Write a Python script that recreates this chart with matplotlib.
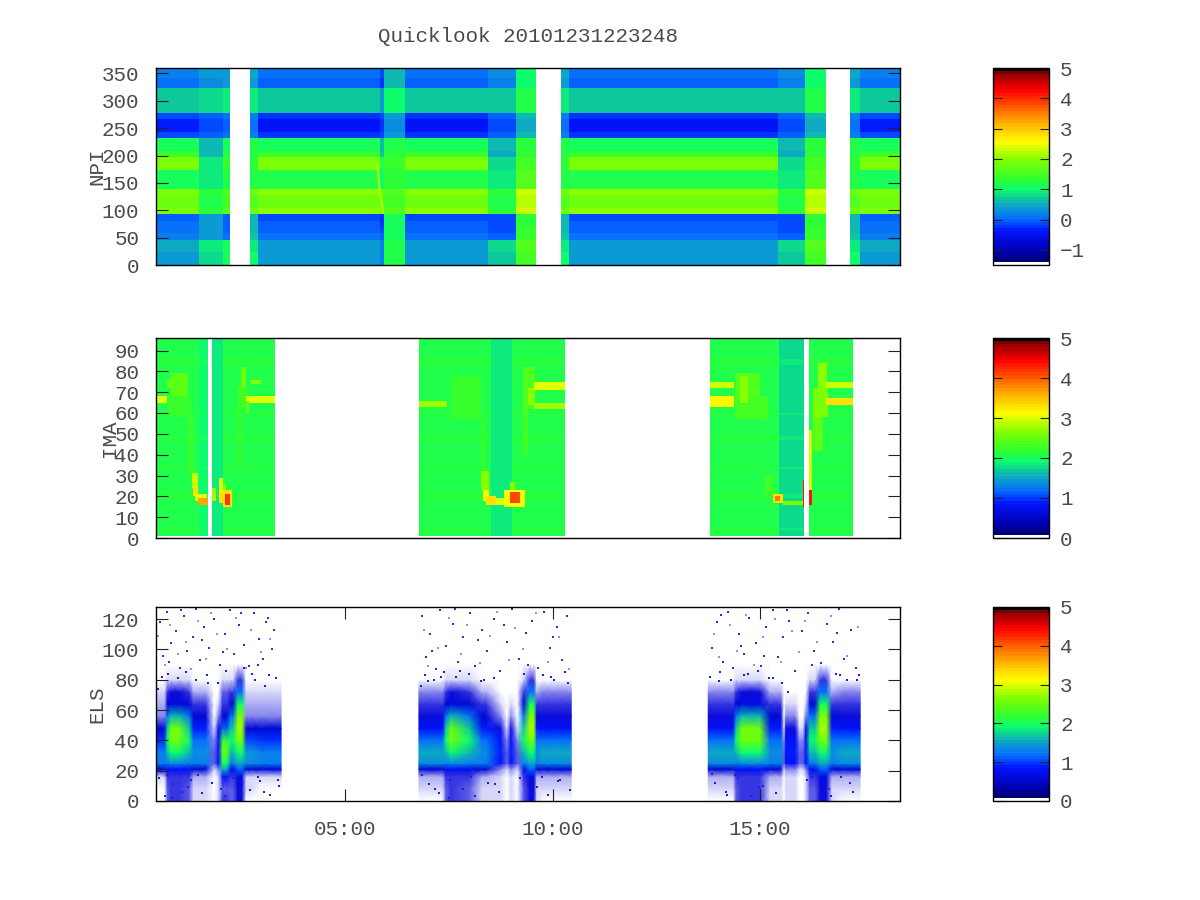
import numpy as np
import matplotlib
matplotlib.use('Agg')
import matplotlib.pyplot as plt
from matplotlib.cm import ScalarMappable
from matplotlib.colors import LinearSegmentedColormap, ListedColormap, Normalize

plt.rcParams['font.family'] = ['Liberation Mono', 'DejaVu Sans Mono']
plt.rcParams['font.size'] = 15
plt.rcParams['text.color'] = '#4a4a4a'
plt.rcParams['axes.labelcolor'] = '#4a4a4a'
plt.rcParams['xtick.color'] = '#222222'
plt.rcParams['ytick.color'] = '#222222'
plt.rcParams['xtick.labelcolor'] = '#4a4a4a'
plt.rcParams['ytick.labelcolor'] = '#4a4a4a'

title = 'Quicklook 20101231223248'
x_ticks = [5, 10, 15]
x_labels = ['05:00', '10:00', '15:00']
x_range = (0.446, 18.37)

# NPI: direction bands, value per band (bottom to top) for each kind of column
npi_edges = [0, 23, 46.5, 58, 70, 81, 93, 105, 128, 139, 174, 197, 209, 232, 243, 267, 278, 324, 342, 360]
npi_quiet = [.35, .42, .1, -.05, 0, -.15, 2.0, 1.8, 2.0, 1.15, 1.95, 1.4, 1.05, -.2, -.4, -.2, .65, 0, .1]
npi_left = [.4, .45, .15, .05, .1, -.05, 1.95, 1.75, 1.95, 1.1, 1.9, 1.35, 1.1, -.1, -.3, -.1, .7, .1, .2]
npi_trans = [.8, .85, .35, .35, .4, .4, 1.25, 1.15, 1.25, .85, .85, .55, .6, 0, -.15, 0, .8, .3, .35]
npi_trans2 = [1.05, 1.05, .1, 0, -.05, 0, 1.55, 1.5, 1.55, 1.2, 1.4, 1.2, 1.05, .1, -.05, .05, .85, .4, .4]
npi_edge = [.95, .9, .65, .6, .55, .55, 1.75, 1.6, 1.75, 1.2, 1.3, 1.2, 1.15, .2, .1, .2, .9, .4, .45]
npi_dark = [.15, .2, -.05, -.1, -.2, -.2, 1.65, 1.55, 1.65, 1.0, 1.2, .7, .6, -.1, -.25, -.1, .35, -.25, -.15]
npi_recover = [1.15, 1.15, 1.1, 1.1, 1.05, 1.05, 1.55, 1.5, 1.55, 1.25, 1.35, 1.25, 1.15, .35, .25, .35, .95, .55, .55]
npi_sheath = [.7, .75, 0, -.1, -.1, -.1, 1.3, 1.2, 1.3, .9, .75, .5, .6, 0, -.15, 0, .7, .15, .25]
npi_bright = [1.5, 1.55, 1.4, 1.35, 1.3, 1.3, 2.35, 2.2, 2.3, 1.6, 1.5, 1.25, 1.25, .6, .5, .6, 1.15, .95, .95]
npi_gap = [np.nan] * 19

npi_times = [.446, 1.48, 2.05, 2.23, 2.71, 2.9, 5.84, 5.94, 6.45, 8.45, 9.12, 9.60,
             10.2, 10.4, 15.43, 16.08, 16.59, 17.17, 17.4, 18.37]
npi_columns = [npi_left, npi_trans, npi_trans2, npi_gap, npi_edge, npi_quiet, npi_dark,
               npi_recover, npi_quiet, npi_sheath, npi_bright, npi_gap, npi_edge,
               npi_quiet, npi_sheath, npi_bright, npi_gap, npi_edge, npi_left]
npi_streak_t = [5.78, 5.84, 5.92]
npi_streak_y = [180, 135, 95]

# IMA: background per stretch of time, then the brighter patches on top of it
ima_base = [(.446, 1.48, 2.1), (1.48, 1.70, 1.95), (1.795, 2.06, 1.8), (2.06, 3.29, 2.1),
            (6.78, 8.49, 2.1), (8.49, 9.02, 1.8), (9.02, 10.30, 2.1),
            (13.77, 15.46, 2.1), (15.46, 16.06, 1.78), (16.16, 17.24, 2.1)]
ima_light_rows = [4, 19, 20, 33, 47, 48, 59, 83, 84, 85]
ima_patches = [
    # first pass
    (.446, .69, 65.5, 68, 3.0), (.69, .9, 72, 76, 2.5),
    (.735, 1.27, 58, 68, 2.25), (.8, 1.2, 68, 79, 2.45), (1.2, 1.32, 30, 58, 2.25),
    (1.29, 1.43, 24, 31, 2.9), (1.33, 1.43, 20, 24, 3.3), (1.38, 1.67, 18.5, 21, 3.0),
    (1.45, 1.70, 16, 18.5, 3.6),
    (1.795, 1.87, 18, 24, 2.8), (1.96, 2.06, 22, 29, 3.0), (1.96, 2.06, 17, 22, 3.3),
    (2.06, 2.25, 15, 23, 3.3), (2.1, 2.22, 16, 21, 4.2), (2.06, 2.12, 23, 26, 2.6),
    (2.42, 2.64, 63, 72, 2.3), (2.47, 2.6, 72, 82, 2.5), (2.42, 2.5, 33, 63, 2.25),
    (2.61, 3.29, 65.5, 67.5, 3.0), (2.71, 2.95, 74, 76, 2.7), (2.61, 2.68, 60, 66, 2.5),
    # second pass
    (6.78, 7.43, 63.5, 65.5, 2.8), (7.53, 8.25, 57, 78, 2.22), (8.25, 8.35, 30, 57, 2.2),
    (8.28, 8.45, 23, 32, 2.7), (8.32, 8.45, 18, 23, 3.1),
    (8.37, 8.61, 16.5, 20, 3.3), (8.61, 8.95, 16, 19, 3.0), (8.81, 9.34, 15.5, 23, 3.1),
    (8.95, 9.2, 17, 22, 4.1), (8.95, 9.1, 23, 27, 2.7),
    (9.27, 9.4, 40, 62, 2.3), (9.27, 9.58, 62, 82, 2.4), (9.4, 9.55, 64, 72, 2.7),
    (9.53, 10.30, 71.5, 74.5, 3.0), (9.53, 10.30, 62.5, 65, 2.8),
    # third pass
    (13.77, 14.35, 72, 75, 2.9), (13.77, 14.35, 63, 68, 3.2), (14.40, 15.17, 57, 68, 2.3),
    (14.40, 15.0, 68, 79, 2.4), (14.52, 14.69, 65, 78, 2.7), (15.1, 15.29, 21, 30, 2.3),
    (15.29, 15.53, 17, 21, 3.3), (15.36, 15.48, 18, 20, 3.9), (15.53, 16.01, 16, 18, 2.6),
    (16.01, 16.06, 15, 28, 4.3), (16.16, 16.23, 16, 23, 4.3), (16.16, 16.23, 23, 52, 2.9),
    (16.28, 16.5, 42, 58, 2.45), (16.28, 16.64, 58, 72, 2.6), (16.4, 16.6, 72, 84, 2.7),
    (16.57, 17.24, 72, 75, 2.9), (16.57, 17.24, 64, 67, 3.3),
]

# ELS: value at each energy node for the kinds of column seen in the panel
els_energy = [0, 8, 16, 21, 25, 32, 40, 48, 56, 64, 72, 80, 90]
els_dim = [.03, .05, .1, .55, 1.25, 1.3, 1.0, .6, .3, .18, .12, .03, 0]
els_quiet = [.06, .1, .18, .6, 1.4, 1.5, 1.2, .85, .5, .42, .28, .05, 0]
els_fade = [.05, .08, .15, .6, 1.35, 1.45, 1.05, .55, .28, .18, .14, .05, 0]
els_cone = [.4, .4, .46, .85, 1.35, 1.95, 2.55, 2.55, 1.6, .7, .48, .14, 0]
els_coneb = [.33, .33, .4, .75, 1.25, 1.6, 1.9, 1.7, 1.2, .6, .42, .1, 0]
els_mid = [.12, .12, .2, .6, 1.25, 1.35, 1.2, .9, .55, .42, .2, .03, 0]
els_vee = [.42, .35, .8, 1.5, 2.0, 2.45, 2.2, 1.1, .6, .45, .35, .1, 0]
els_peak = [.48, .48, .7, 1.1, 1.5, 1.9, 2.5, 2.8, 2.6, 2.0, 1.2, .4, .02]
els_thin = [.08, .08, .12, .3, .8, .9, .8, .5, .25, .12, .05, .01, 0]
els_none = [0, 0, .02, .1, .35, .35, .25, .1, .03, 0, 0, 0, 0]

els_pass1_t = [.446, .65, .72, .80, 1.0, 1.25, 1.35, 1.65, 1.85, 1.95, 2.05, 2.15,
               2.25, 2.30, 2.42, 2.52, 2.62, 2.72, 3.0, 3.46]
els_pass1 = [els_dim, els_dim, els_coneb, els_cone, els_cone, els_coneb, els_mid, els_mid,
             els_none, els_thin, els_vee, els_vee, els_coneb, els_coneb, els_peak, els_peak,
             els_fade, els_fade, els_dim, els_dim]
els_pass2_t = [6.78, 7.35, 7.43, 7.55, 8.0, 8.3, 8.4, 8.75, 8.9, 9.0, 9.15, 9.3, 9.45,
               9.55, 9.62, 9.75, 10.0, 10.45]
els_pass2 = [els_quiet, els_quiet, els_coneb, els_cone, els_coneb, els_mid, els_mid, els_thin,
             els_none, els_thin, els_none, els_coneb, els_peak, els_peak, els_mid, els_quiet,
             els_quiet, els_quiet]
els_pass3_t = [13.75, 14.35, 14.42, 14.55, 15.0, 15.24, 15.5, 15.58, 15.62, 15.85, 15.95,
               16.03, 16.1, 16.2, 16.32, 16.45, 16.6, 16.73, 17.0, 17.41]
els_pass3 = [els_quiet, els_quiet, els_coneb, els_cone, els_cone, els_mid, els_mid, els_none,
             els_thin, els_thin, els_none, els_none, els_thin, els_coneb, els_coneb, els_peak,
             els_peak, els_mid, els_quiet, els_quiet]
els_passes = [(els_pass1_t, els_pass1), (els_pass2_t, els_pass2), (els_pass3_t, els_pass3)]

# the loose dots above the main population
els_dots_t = [.55, .62, .7, .81, .93, 1.02, 1.12, 1.2, 1.33, 1.41, 1.5, 1.61, 1.72, 1.85, 1.98,
              2.1, 2.22, 2.33, 2.44, 2.57, 2.68, 2.8, 2.93, 3.02, 3.15, 3.24, 3.3,
              .75, 1.05, 1.55, 2.05, 2.5, 2.9, 3.1,
              6.85, 6.95, 7.04, 7.18, 7.3, 7.44, 7.6, 7.72, 7.85, 8.0, 8.12, 8.3, 8.42, 8.6, 8.74,
              8.9, 9.02, 9.2, 9.35, 9.5, 9.66, 9.8, 9.95, 10.1, 10.22, 10.35,
              7.1, 7.66, 8.2, 8.82, 9.42, 10.0,
              13.85, 13.97, 14.1, 14.22, 14.35, 14.48, 14.6, 14.73, 14.9, 15.03, 15.15, 15.3, 15.42,
              15.55, 15.7, 15.85, 16.0, 16.15, 16.3, 16.46, 16.6, 16.75, 16.9, 17.02, 17.18, 17.3,
              14.05, 14.55, 15.1, 15.65, 16.25, 16.85]
els_dots_e = [118, 96, 125, 104, 112, 88, 122, 99, 108, 127, 93, 115, 101, 120, 90,
              110, 126, 97, 116, 103, 89, 124, 107, 94, 121, 100, 113,
              92, 126, 106, 98, 124, 90, 118,
              122, 95, 110, 87, 126, 102, 117, 92, 108, 124, 89, 113, 99, 120, 86,
              105, 127, 94, 111, 119, 88, 125, 101, 115, 93, 122,
              99, 127, 106, 116, 90, 108,
              101, 118, 92, 125, 88, 110, 97, 121, 104, 89, 115, 126, 95, 108,
              119, 86, 112, 124, 99, 91, 117, 105, 127, 94, 113, 88,
              123, 102, 96, 126, 90, 111]
els_pale_t = [.5, .66, .78, .98, 1.16, 1.28, 1.46, 1.66, 1.78, 1.92, 2.16, 2.38, 2.62, 2.74, 2.98, 3.2,
              6.9, 7.0, 7.24, 7.5, 7.8, 7.95, 8.25, 8.5, 8.66, 8.95, 9.1, 9.28, 9.6, 9.9, 10.16, 10.4,
              13.9, 14.02, 14.28, 14.44, 14.66, 14.85, 15.08, 15.36, 15.5, 15.78, 15.94, 16.08, 16.38, 16.7, 17.1, 17.36]
els_pale_e = [109, 90, 116, 97, 105, 87, 119, 94, 124, 110, 100, 121, 88, 113, 98, 107,
              113, 89, 101, 121, 97, 116, 91, 109, 125, 93, 114, 100, 124, 92, 108, 87,
              110, 95, 116, 99, 123, 90, 108, 120, 92, 112, 98, 119, 105, 122, 96, 115]

# speckle along the rim of the population, above it and below it
els_rim_t = [.5, .58, .66, .74, .86, .97, 1.08, 1.17, 1.3, 1.42, 1.55, 1.68, 1.8, 1.93, 2.02, 2.14, 2.3, 2.56, 2.7, 2.82,
             2.95, 3.08, 3.2, 3.33, 3.42, .52, .7, .84, 1.0, 1.22, 1.46, 1.7, 2.1, 2.76, 2.9, 3.05, 3.18, 3.38,
             6.82, 6.92, 7.02, 7.14, 7.26, 7.38, 7.52, 7.68, 7.84, 7.98, 8.14, 8.28, 8.44, 8.58, 8.72, 9.22, 9.62, 9.78,
             9.9, 10.04, 10.18, 10.3, 10.42, 6.86, 7.0, 7.16, 7.32, 7.5, 7.76, 8.04, 8.36, 8.62, 9.3, 9.74, 9.96, 10.12, 10.36,
             13.8, 13.92, 14.04, 14.18, 14.3, 14.46, 14.6, 14.78, 14.94, 15.08, 15.22, 15.38, 15.52, 16.12, 16.66, 16.82,
             16.96, 17.1, 17.24, 17.38, 13.84, 14.0, 14.2, 14.4, 14.7, 14.98, 15.3, 15.66, 16.26, 16.7, 16.92, 17.16, 17.34]
els_rim_e = [74, 82, 3, 84, 11, 81, 6, 85, 14, 80, 5, 83, 12, 78, 8, 86, 15, 88, 7, 80,
             13, 76, 4, 81, 10, 15, 17, 2, 18, 9, 17, 78, 3, 84, 16, 6, 83, 14,
             76, 83, 11, 80, 5, 85, 14, 82, 8, 84, 3, 79, 12, 81, 6, 15, 9, 83,
             4, 80, 14, 85, 7, 17, 79, 8, 82, 2, 86, 16, 80, 11, 84, 16, 82, 13, 78,
             82, 12, 85, 6, 80, 15, 83, 3, 86, 10, 81, 5, 78, 14, 8, 84,
             16, 80, 6, 83, 18, 79, 4, 17, 84, 9, 81, 72, 16, 3, 83, 12, 80]

# colours of the palette, from the bottom to the top of a colour box
palette = [(0, 'white'), (.012, 'white'), (.013, (0, 0, .45)), (.067, (0, 0, .7)),
           (.17, (0, .08, 1)), (.23, (.02, .42, 1)), (.29, (.05, .62, .82)), (.337, (.05, .8, .6)),
           (.383, (.05, 1, .42)), (.44, (.2, 1, .18)), (.536, (.52, 1, 0)), (.624, (1, 1, 0)),
           (.69, (1, .8, 0)), (.76, (1, .55, 0)), (.843, (1, .2, 0)), (.894, (1, 0, 0)),
           (.96, (.65, 0, 0)), (.984, (.55, 0, 0)), (.985, 'black'), (1, 'black')]
cmap = LinearSegmentedColormap.from_list('quick', palette, N=64)

# ELS goes from blue to white where the counts get sparse
fade = cmap(np.arange(64))
for i in range(7):
    mix = i / 6.3
    fade[i] = (1 - mix, 1 - mix, 1 - .15 * mix, 1)
cmap_fade = ListedColormap(fade)


def panel_ax(fig, left, top, right, bottom):
    return fig.add_axes([left / 1200, 1 - bottom / 900, (right - left) / 1200, (bottom - top) / 900])


def side_bar(fig, top, bottom, norm, ticks):
    cax = panel_ax(fig, 993, top, 1049, bottom)
    cb = fig.colorbar(ScalarMappable(norm=norm, cmap=cmap), cax=cax, ticks=ticks)
    cb.ax.tick_params(which='major', direction='in', left=True, right=True, length=6.5, width=.8, pad=8)
    cb.ax.minorticks_off()
    cb.outline.set_linewidth(1)
    return cb


fig = plt.figure(figsize=(12, 9), dpi=100)
fig.text(528 / 1200, 1 - 37 / 900, title, ha='center', va='center')

# NPI
norm1 = Normalize(-1.5, 5)
ax1 = panel_ax(fig, 156, 68, 900, 265)
ax1.pcolormesh(npi_times, npi_edges, np.array(npi_columns).T, cmap=cmap, norm=norm1)
ax1.plot(npi_streak_t, npi_streak_y, color=cmap(norm1(2.2)), lw=1.5)
ax1.set_ylim(0, 360)
ax1.set_yticks(np.arange(0, 351, 50))
ax1.set_ylabel('NPI')
ax1.yaxis.set_label_coords((106 - 156) / 744, .5)
side_bar(fig, 68, 265, norm1, [-1, 0, 1, 2, 3, 4, 5])

# IMA
norm2 = Normalize(0, 5)
ima_t = np.arange(x_range[0], x_range[1], .02)
ima = np.full((96, len(ima_t)), np.nan)
for t0, t1, v in ima_base:
    ima[1:, (ima_t >= t0) & (ima_t < t1)] = v
    ima[np.ix_(ima_light_rows, (ima_t >= t0) & (ima_t < t1))] = v + .06
for t0, t1, e0, e1, v in ima_patches:
    cols = (ima_t >= t0) & (ima_t < t1)
    rows = (np.arange(96) >= int(e0)) & (np.arange(96) < int(np.ceil(e1)))
    ima[np.ix_(rows, cols)] = v
ax2 = panel_ax(fig, 156, 338, 900, 538)
ax2.imshow(ima, origin='lower', aspect='auto', cmap=cmap, norm=norm2, interpolation='nearest',
           extent=(ima_t[0], ima_t[-1] + .02, 0, 96))
ax2.set_ylim(0, 96)
ax2.set_yticks(np.arange(0, 91, 10))
ax2.set_ylabel('IMA')
ax2.yaxis.set_label_coords((119 - 156) / 744, .5)
side_bar(fig, 338, 538, norm2, [0, 1, 2, 3, 4, 5])

# ELS
ax3 = panel_ax(fig, 156, 607, 900, 801)
for t_nodes, columns in els_passes:
    ax3.pcolormesh(t_nodes, els_energy, np.array(columns).T, cmap=cmap_fade, norm=norm2, shading='gouraud')
ax3.scatter(els_rim_t, els_rim_e, s=2.5, marker='s', linewidths=0, color='#2020d8')
ax3.scatter(els_dots_t, els_dots_e, s=2, marker='s', linewidths=0, color='#3030d8')
ax3.scatter(els_pale_t, els_pale_e, s=2, marker='s', linewidths=0, color='#9090e8')
ax3.set_ylim(0, 128)
ax3.set_yticks(np.arange(0, 121, 20))
ax3.set_ylabel('ELS')
ax3.yaxis.set_label_coords((106 - 156) / 744, .5)
side_bar(fig, 607, 801, norm2, [0, 1, 2, 3, 4, 5])

for ax in (ax1, ax2, ax3):
    ax.set_xlim(*x_range)
    ax.set_xticks([])
    ax.tick_params(axis='y', direction='in', left=True, right=True, length=8.6, width=.8, pad=12)
    for side in ax.spines.values():
        side.set_linewidth(1)
        side.set_zorder(5)

ax3.set_xticks(x_ticks)
ax3.set_xticklabels(x_labels)
ax3.tick_params(axis='x', direction='in', bottom=True, top=True, length=8.6, width=.8, pad=14)

fig.savefig('out.png', dpi=100)
